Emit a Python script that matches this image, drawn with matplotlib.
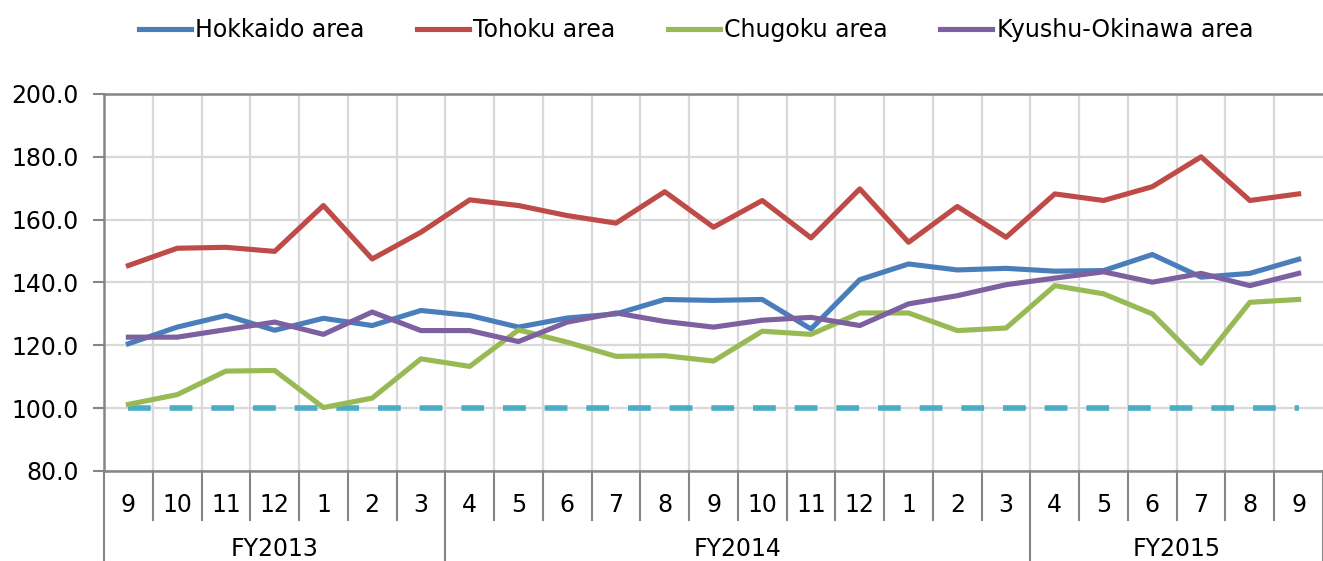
import numpy as np
import matplotlib.pyplot as plt

# %% Data
months = ["9", "10", "11", "12", "1", "2", "3",
          "4", "5", "6", "7", "8", "9", "10", "11", "12", "1", "2", "3",
          "4", "5", "6", "7", "8", "9"]
years = ["FY2013", "FY2014", "FY2015"]
year_counts = [7, 12, 6]

hokkaido = [120.5, 125.8, 129.5, 124.8, 128.6, 126.3, 131.1, 129.5, 125.8, 128.7,
            130.0, 134.6, 134.3, 134.6, 125.2, 140.9, 145.9, 144.0, 144.5, 143.6,
            143.8, 148.9, 141.7, 142.9, 147.4]
tohoku = [145.4, 150.9, 151.2, 149.9, 164.5, 147.5, 156.0, 166.3, 164.5, 161.3,
          158.9, 168.9, 157.6, 166.1, 154.2, 169.8, 152.8, 164.2, 154.4, 168.2,
          166.1, 170.5, 180.0, 166.1, 168.2]
chugoku = [101.2, 104.3, 111.8, 112.0, 100.2, 103.2, 115.7, 113.3, 124.9, 121.0,
           116.5, 116.7, 115.0, 124.5, 123.5, 130.3, 130.3, 124.7, 125.5, 139.0,
           136.4, 130.0, 114.3, 133.7, 134.6]
kyushu = [122.6, 122.6, 125.0, 127.4, 123.5, 130.6, 124.7, 124.7, 121.2, 127.4,
          130.3, 127.6, 125.8, 128.0, 128.9, 126.3, 133.2, 135.8, 139.3, 141.4,
          143.4, 140.1, 142.9, 139.0, 142.9]
baseline = [100.0] * len(months)

# %% Plot
fig = plt.figure(figsize=(13.23, 5.61), dpi=100)
ax = fig.add_axes([104 / 1323, 1 - 471 / 561, 1 - 104 / 1323, 377 / 561])

x = np.arange(len(months))
grid_c = "#D9D9D9"
axis_c = "#868686"
fs = 17

ax.plot(x, baseline, color="#4BACC6", lw=4.0, dashes=(4.1, 3.4),
        dash_capstyle="butt", zorder=3)
ax.plot(x, hokkaido, color="#4A7EBB", lw=3.7, label="Hokkaido area", zorder=4)
ax.plot(x, tohoku, color="#BE4B48", lw=3.7, label="Tohoku area", zorder=4)
ax.plot(x, chugoku, color="#98B954", lw=3.7, label="Chugoku area", zorder=4)
ax.plot(x, kyushu, color="#7D60A0", lw=3.7, label="Kyushu-Okinawa area", zorder=4)

ax.set_xlim(-0.5, len(months) - 0.5)
ax.set_ylim(80, 200)
ax.set_yticks(np.arange(80, 201, 20))
ax.set_yticklabels([f"{v:.1f}" for v in np.arange(80, 201, 20)])
ax.yaxis.grid(True, color=grid_c, lw=1.6, zorder=0)

# vertical gridlines at category boundaries
ax.set_xticks(x)
ax.set_xticklabels(months)
ax.set_xticks(np.arange(0.5, len(months) - 0.5), minor=True)
ax.xaxis.grid(True, which="minor", color=grid_c, lw=1.6, zorder=0)
ax.tick_params(axis="x", which="both", length=0, pad=16, labelsize=fs)
ax.tick_params(axis="y", length=8, color=axis_c, width=1.5, labelsize=fs, pad=10)

ax.spines["right"].set_visible(False)
for side in ["left", "bottom", "top"]:
    ax.spines[side].set_color(axis_c)
    ax.spines[side].set_linewidth(1.8)

# category separators below the axis
tr = ax.get_xaxis_transform()
bounds = np.cumsum([0] + year_counts) - 0.5
for b in np.arange(-0.5, len(months)):
    depth = 0.25 if np.isclose(bounds, b).any() else 0.13
    ax.plot([b, b], [0, -depth], transform=tr, color=axis_c, lw=1.5, clip_on=False)
for i, yr in enumerate(years):
    ax.text((bounds[i] + bounds[i + 1]) / 2, -0.208, yr, transform=tr,
            ha="center", va="center", fontsize=fs)

fig.legend(loc="upper center", bbox_to_anchor=(0.526, 1.006), ncol=4, frameon=False,
           fontsize=fs, handlelength=2.2, handletextpad=0.2, columnspacing=2.2)

fig.savefig("out.png", dpi=100)
